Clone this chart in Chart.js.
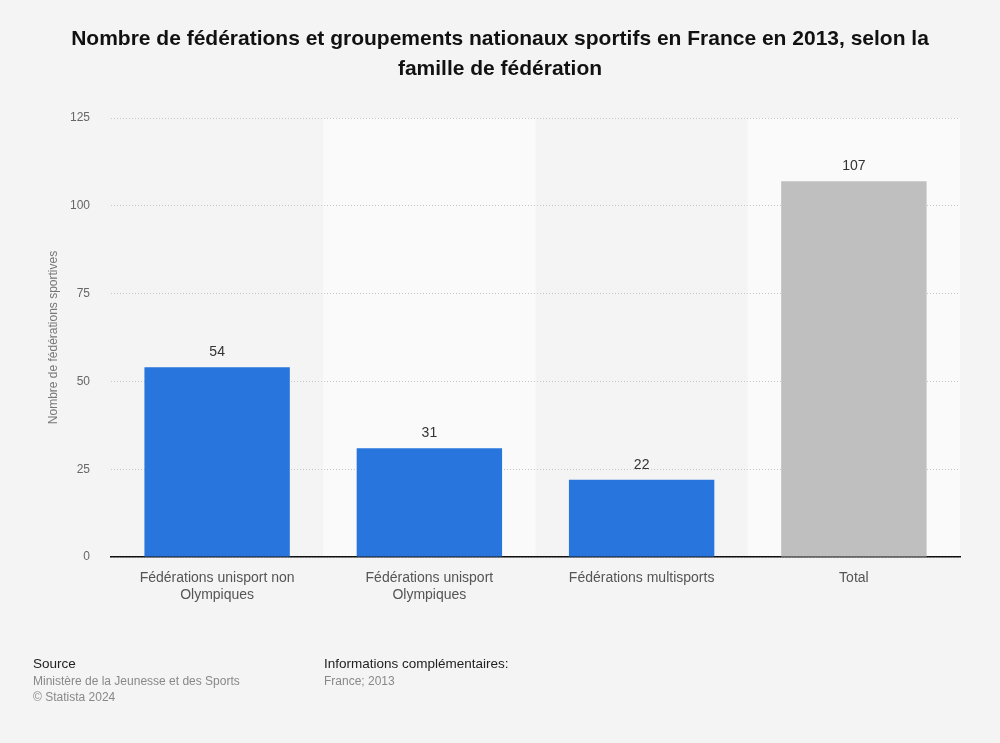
<!DOCTYPE html>
<html>
<head>
<meta charset="utf-8">
<script src="https://cdn.jsdelivr.net/npm/chart.js@4/dist/chart.umd.min.js"></script>
<style>
  html, body { margin: 0; padding: 0; background: #f4f4f4; }
  body { width: 1000px; height: 743px; position: relative; overflow: hidden; font-family: "Liberation Sans", Arial, sans-serif; }
  #wrap { position: absolute; left: 0; top: 0; width: 1000px; height: 743px; }
  #title { position: absolute; left: 0; top: 23px; width: 1000px; text-align: center; font-weight: bold; font-size: 21px; line-height: 30px; color: #111; }
  .foot { position: absolute; font-size: 12px; color: #888; line-height: 16px; }
  .foot b { font-weight: normal; color: #222; font-size: 13.5px; display: block; margin-bottom: 1px; }
</style>
</head>
<body>
<div id="wrap"><canvas id="c" width="1000" height="743"></canvas></div>
<div id="title">Nombre de fédérations et groupements nationaux sportifs en France en 2013, selon la<br>famille de fédération</div>
<div class="foot" style="left:33px; top:656px;"><b>Source</b>Ministère de la Jeunesse et des Sports<br>© Statista 2024</div>
<div class="foot" style="left:324px; top:656px;"><b>Informations complémentaires:</b>France; 2013</div>
<script>
const categories = [
  ["Fédérations unisport non", "Olympiques"],
  ["Fédérations unisport", "Olympiques"],
  "Fédérations multisports",
  "Total"
];
const values = [54, 31, 22, 107];
const barColors = ["#2876dd", "#2876dd", "#2876dd", "#bfbfbf"];
const yTicks = [0, 25, 50, 75, 100, 125];

const bandPlugin = {
  id: 'bands',
  beforeDraw(chart) {
    const { ctx, chartArea, scales } = chart;
    const x = scales.x;
    const w = (chartArea.right - chartArea.left) / categories.length;
    ctx.save();
    ctx.fillStyle = '#fafafa';
    for (let i = 1; i < categories.length; i += 2) {
      const cx = x.getPixelForValue(i);
      ctx.fillRect(cx - w / 2, chartArea.top, w, chartArea.bottom - chartArea.top);
    }
    ctx.restore();
  }
};

const labelPlugin = {
  id: 'vlabels',
  afterDatasetsDraw(chart) {
    const { ctx } = chart;
    const meta = chart.getDatasetMeta(0);
    ctx.save();
    ctx.font = '14px "Liberation Sans", Arial, sans-serif';
    ctx.fillStyle = '#333';
    ctx.textAlign = 'center';
    ctx.textBaseline = 'bottom';
    meta.data.forEach((bar, i) => {
      ctx.fillText(String(values[i]), bar.x, bar.y - 8);
    });
    ctx.restore();
  }
};

new Chart(document.getElementById('c'), {
  type: 'bar',
  data: {
    labels: categories,
    datasets: [{
      data: values,
      backgroundColor: barColors,
      borderWidth: 0,
      barPercentage: 0.685,
      categoryPercentage: 1
    }]
  },
  options: {
    responsive: false,
    animation: false,
    layout: { padding: { left: 0, right: 40, top: 118, bottom: 126 } },
    plugins: {
      legend: { display: false },
      tooltip: { enabled: false },
      title: { display: false }
    },
    scales: {
      x: {
        afterFit(scale) { scale.height = 60; },
        grid: { display: false, drawTicks: false },
        border: { display: true, color: '#111', width: 1.5 },
        ticks: {
          padding: 13,
          color: '#555',
          font: { family: '"Liberation Sans", Arial, sans-serif', size: 14 },
          maxRotation: 0,
          autoSkip: false
        }
      },
      y: {
        min: 0,
        max: 125,
        afterFit(scale) { scale.width = 111; },
        afterBuildTicks(scale) { scale.ticks = yTicks.map(v => ({ value: v })); },
        grid: { color: '#c8c8c8', lineWidth: 1, drawTicks: false },
        border: { display: false, dash: [1, 2] },
        ticks: {
          padding: 21,
          color: '#666',
          font: { family: '"Liberation Sans", Arial, sans-serif', size: 12 }
        },
        title: {
          display: true,
          text: 'Nombre de fédérations sportives',
          color: '#777',
          font: { family: '"Liberation Sans", Arial, sans-serif', size: 12 },
          padding: { top: 46, bottom: 0 }
        }
      }
    }
  },
  plugins: [bandPlugin, labelPlugin]
});
</script>
</body>
</html>
